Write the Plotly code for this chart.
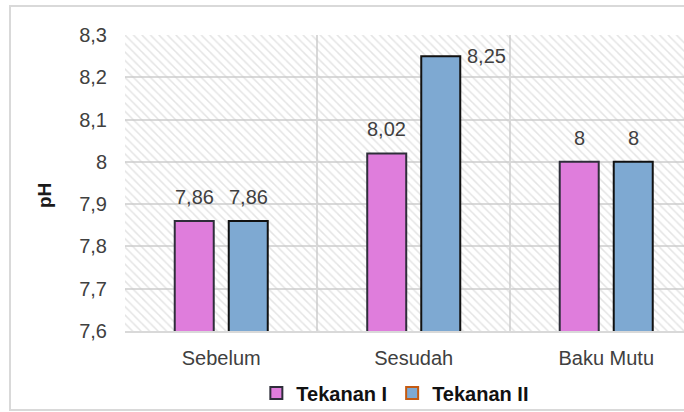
import plotly.graph_objects as go

# ---- data ----
categories = ["Sebelum", "Sesudah", "Baku Mutu"]
tekanan_1 = [7.86, 8.02, 8.00]
tekanan_2 = [7.86, 8.25, 8.00]
labels_1 = ["7,86", "8,02", "8"]
labels_2 = ["7,86", "8,25", "8"]
series_names = ["Tekanan I", "Tekanan II"]
y_tick_vals = [7.6, 7.7, 7.8, 7.9, 8.0, 8.1, 8.2, 8.3]
y_tick_labels = ["7,6", "7,7", "7,8", "7,9", "8", "8,1", "8,2", "8,3"]

# ---- styling ----
FONT = "Liberation Sans, Arial, sans-serif"
GRID = "#d9d9d9"
PINK = "#df7ddc"
BLUE = "#7ea9d2"
X_RANGE = [-0.5, 2.404]
Y_RANGE = [7.6, 8.3]
BAR_W = 0.2026
OFF_1 = -0.2416
OFF_2 = 0.039

idx = list(range(len(categories)))

fig = go.Figure()

# hatched plot-area background (decoration)
fig.add_trace(go.Bar(
    x=[(X_RANGE[0] + X_RANGE[1]) / 2], y=[Y_RANGE[1] - Y_RANGE[0]], base=[Y_RANGE[0]],
    width=[X_RANGE[1] - X_RANGE[0]],
    marker=dict(color="rgba(0,0,0,0)", line=dict(width=0),
                pattern=dict(shape="\\", fgcolor="#c9c9c9", bgcolor="rgba(0,0,0,0)",
                             size=6, solidity=0.25)),
    showlegend=False, hoverinfo="skip"))

fig.add_trace(go.Bar(
    x=idx, y=tekanan_1, width=BAR_W, offset=OFF_1, name=series_names[0],
    marker=dict(color=PINK, line=dict(color="#2e2e3a", width=2)),
    showlegend=False))
fig.add_trace(go.Bar(
    x=idx, y=tekanan_2, width=BAR_W, offset=OFF_2, name=series_names[1],
    marker=dict(color=BLUE, line=dict(color="#111111", width=2)),
    showlegend=False))

# legend entries
fig.add_trace(go.Bar(x=[None], y=[None], name=series_names[0],
                     marker=dict(color=PINK, line=dict(color="#2e2e3a", width=2))))
fig.add_trace(go.Bar(x=[None], y=[None], name=series_names[1],
                     marker=dict(color=BLUE, line=dict(color="#c55a11", width=2))))

annotations = []
for i in idx:
    for vals, labs, off in ((tekanan_1, labels_1, OFF_1), (tekanan_2, labels_2, OFF_2)):
        v = vals[i]
        if v > 8.2:
            annotations.append(dict(x=i + off + BAR_W, y=v, xref="x", yref="y", text=labs[i],
                                    showarrow=False, xanchor="left", yanchor="middle", xshift=5,
                                    font=dict(family=FONT, size=20, color="#404040")))
        else:
            annotations.append(dict(x=i + off + BAR_W / 2, y=v, xref="x", yref="y", text=labs[i],
                                    showarrow=False, xanchor="center", yanchor="bottom", yshift=11,
                                    font=dict(family=FONT, size=20, color="#404040")))

annotations.append(dict(text="<b>pH</b>", textangle=-90, xref="paper", yref="paper",
                        x=-0.145, y=0.459, showarrow=False, xanchor="center", yanchor="middle",
                        font=dict(family=FONT, size=19, color="#1a1a1a")))

fig.update_layout(
    width=684, height=412,
    margin=dict(l=125, r=0, t=35, b=81, autoexpand=False),
    barmode="overlay",
    paper_bgcolor="white", plot_bgcolor="white",
    font=dict(family=FONT, size=20, color="#404040"),
    annotations=annotations,
    legend=dict(orientation="h", xref="container", yref="container",
                x=0.578, y=0.046, xanchor="center", yanchor="middle",
                font=dict(family=FONT, size=20, color="#111111", weight="bold"),
                itemwidth=30, tracegroupgap=0, bgcolor="rgba(0,0,0,0)"),
    shapes=[dict(type="rect", xref="paper", yref="paper", x0=-0.2057, x1=1.5,
                 y0=-0.267, y1=1.098, line=dict(color=GRID, width=2), fillcolor="rgba(0,0,0,0)",
                 layer="below")],
)

fig.update_xaxes(range=X_RANGE, tickvals=idx, ticktext=categories, showgrid=False,
                 minor=dict(tickvals=[-0.5, 0.5, 1.5, 2.5], showgrid=True, gridcolor=GRID, gridwidth=2),
                 showline=True, linecolor=GRID, linewidth=2, ticks="", ticklabelstandoff=8,
                 zeroline=False, fixedrange=True)
fig.update_yaxes(range=Y_RANGE, tickvals=y_tick_vals, ticktext=y_tick_labels,
                 showgrid=True, gridcolor=GRID, gridwidth=2, ticks="", ticklabelstandoff=17,
                 zeroline=False, showline=False, fixedrange=True)

fig.write_html("out.html", config={"displayModeBar": False},
               post_script="document.body.style.margin='0';document.body.style.overflow='hidden';"
                           "document.documentElement.style.overflow='hidden';")
